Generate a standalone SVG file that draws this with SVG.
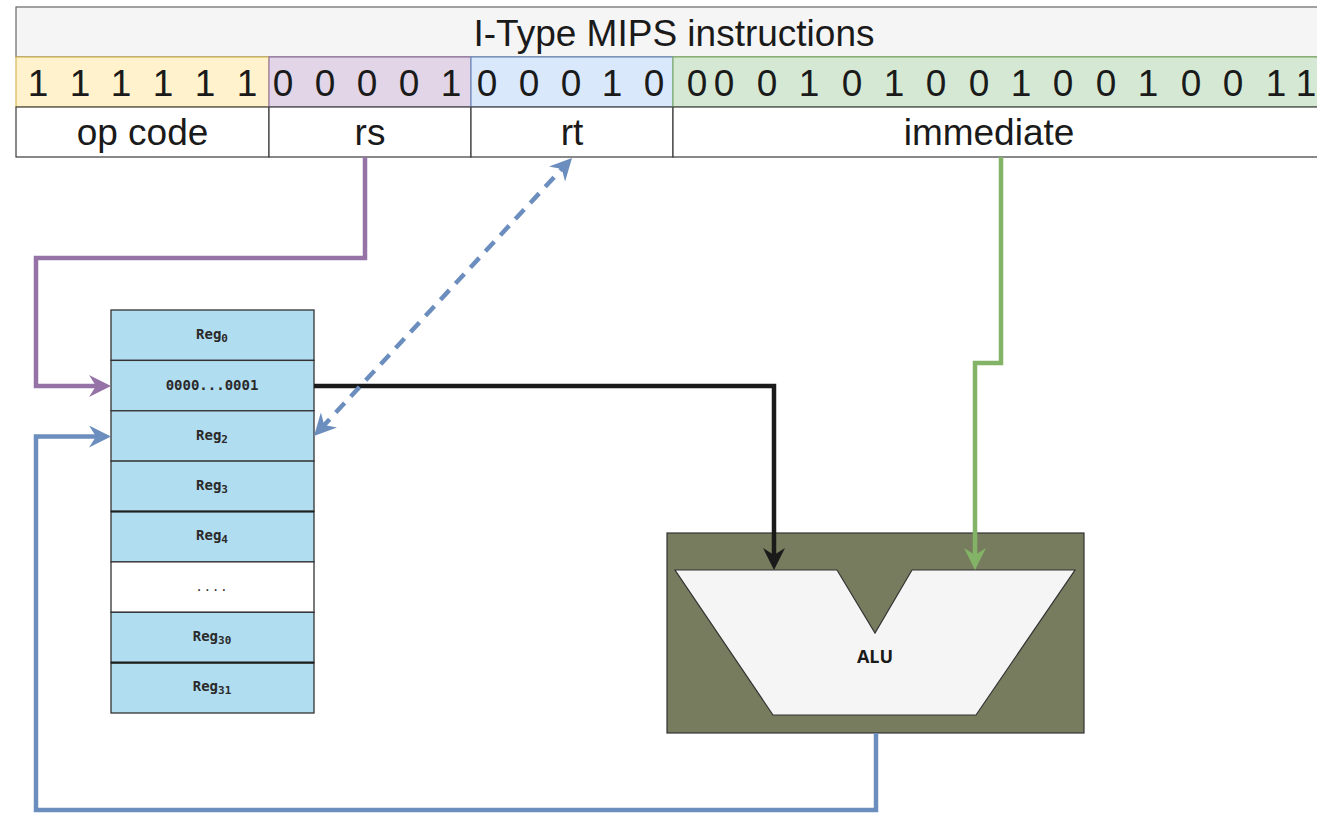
<svg xmlns="http://www.w3.org/2000/svg" width="1317" height="813" viewBox="0 0 1317 813">
  <style>
    .hdr { font-family: "Liberation Sans", Arial, sans-serif; font-size: 37px; fill: #1a1a1a; text-anchor: middle; }
    .cell { stroke-width: 1.2; }
    .lbl { fill: #ffffff; stroke: #3a3a3a; stroke-width: 1.2; }
    .reg { fill: #b1ddf0; stroke: #333333; stroke-width: 1.3; }
    .regtxt { font-family: "DejaVu Sans Mono", "Liberation Mono", monospace; font-size: 14px; font-weight: bold; fill: #2a2a2a; text-anchor: middle; }
    .sub { font-size: 11px; }
    .wire { fill: none; stroke-width: 4.5; stroke-linejoin: miter; }
  </style>
  <defs>
    <marker id="arrow-purple" viewBox="0 0 22 22" refX="12" refY="11" markerWidth="22" markerHeight="22" markerUnits="userSpaceOnUse" orient="auto">
      <path d="M0,0 L22,11 L0,22 L7,11 Z" fill="#9673a6"/>
    </marker>
    <marker id="arrow-black" viewBox="0 0 22 22" refX="12" refY="11" markerWidth="22" markerHeight="22" markerUnits="userSpaceOnUse" orient="auto">
      <path d="M0,0 L22,11 L0,22 L7,11 Z" fill="#1a1a1a"/>
    </marker>
    <marker id="arrow-green" viewBox="0 0 22 22" refX="12" refY="11" markerWidth="22" markerHeight="22" markerUnits="userSpaceOnUse" orient="auto">
      <path d="M0,0 L22,11 L0,22 L7,11 Z" fill="#82b366"/>
    </marker>
    <marker id="arrow-blue" viewBox="0 0 22 22" refX="12" refY="11" markerWidth="22" markerHeight="22" markerUnits="userSpaceOnUse" orient="auto-start-reverse">
      <path d="M0,0 L22,11 L0,22 L7,11 Z" fill="#6c8ebf"/>
    </marker>
  </defs>

  <rect width="1317" height="813" fill="#ffffff"/>

  <!-- instruction word -->
  <g id="title">
    <rect x="16" y="7" width="1316" height="50" fill="#f5f5f5" stroke="#666666" stroke-width="1.2"/>
    <text class="hdr" x="674" y="46">I-Type MIPS instructions</text>
  </g>

  <g id="field-opcode">
    <rect class="cell" x="16" y="57" width="253" height="50" fill="#fff2cc" stroke="#d6b656"/>
    <text class="hdr" x="38 80 121 163 205 247" y="96">111111</text>
    <rect class="lbl" x="16" y="107" width="253" height="50"/>
    <text class="hdr" x="142.5" y="145">op code</text>
  </g>

  <g id="field-rs">
    <rect class="cell" x="269" y="57" width="202" height="50" fill="#e1d5e7" stroke="#9673a6"/>
    <text class="hdr" x="283 325 367 409 451" y="96">00001</text>
    <rect class="lbl" x="269" y="107" width="202" height="50"/>
    <text class="hdr" x="370" y="145">rs</text>
  </g>

  <g id="field-rt">
    <rect class="cell" x="471" y="57" width="202" height="50" fill="#dae8fc" stroke="#6c8ebf"/>
    <text class="hdr" x="487 529 571 612 654" y="96">00010</text>
    <rect class="lbl" x="471" y="107" width="202" height="50"/>
    <text class="hdr" x="572" y="145">rt</text>
  </g>

  <g id="field-immediate">
    <rect class="cell" x="673" y="57" width="659" height="50" fill="#d5e8d4" stroke="#82b366"/>
    <text class="hdr" x="697 724 767 809 852 894 936 979 1021 1063 1106 1148 1191 1233 1276 1306" y="96">0001010010010011</text>
    <rect class="lbl" x="673" y="107" width="659" height="50"/>
    <text class="hdr" x="989" y="145">immediate</text>
  </g>

  <!-- register file -->
  <g id="register-file">
    <rect class="reg" x="111" y="310" width="203" height="50.4"/>
    <rect class="reg" x="111" y="360.4" width="203" height="50.4"/>
    <rect class="reg" x="111" y="410.8" width="203" height="50.4"/>
    <rect class="reg" x="111" y="461.1" width="203" height="50.4"/>
    <rect class="reg" x="111" y="511.5" width="203" height="50.4"/>
    <rect class="reg" x="111" y="561.9" width="203" height="50.4" style="fill:#ffffff"/>
    <rect class="reg" x="111" y="612.3" width="203" height="50.4"/>
    <rect class="reg" x="111" y="662.6" width="203" height="50.4"/>
    <line x1="111" y1="511.5" x2="314" y2="511.5" stroke="#1f1f1f" stroke-width="2.2"/>
    <line x1="111" y1="662.6" x2="314" y2="662.6" stroke="#1f1f1f" stroke-width="2.2"/>

    <text class="regtxt" x="212" y="339">Reg<tspan class="sub" dy="3">0</tspan></text>
    <text class="regtxt" x="212" y="390">0000...0001</text>
    <text class="regtxt" x="212" y="440">Reg<tspan class="sub" dy="3">2</tspan></text>
    <text class="regtxt" x="212" y="490">Reg<tspan class="sub" dy="3">3</tspan></text>
    <text class="regtxt" x="212" y="540">Reg<tspan class="sub" dy="3">4</tspan></text>
    <text class="regtxt" x="212" y="591" style="font-weight:normal;font-size:12px;letter-spacing:1px">....</text>
    <text class="regtxt" x="212" y="641">Reg<tspan class="sub" dy="3">30</tspan></text>
    <text class="regtxt" x="212" y="691">Reg<tspan class="sub" dy="3">31</tspan></text>
  </g>

  <!-- arithmetic logic unit -->
  <g id="alu">
    <rect x="667" y="533" width="417" height="200" fill="#777c5e" stroke="#333333" stroke-width="1.2"/>
    <polygon points="675,570 837,570 875,633 912,570 1075,570 976,715 773,715" fill="#f5f5f5" stroke="#333333" stroke-width="1.2"/>
    <text x="875" y="663" font-family="'Open Sans', 'DejaVu Sans', sans-serif" font-size="18" font-weight="bold" fill="#1a1a1a" text-anchor="middle">ALU</text>
  </g>

  <!-- connectors -->
  <g id="connectors">
    <path class="wire" d="M365,157 V258 H36 V386 H101" stroke="#9673a6" marker-end="url(#arrow-purple)"/>
    <path class="wire" d="M314,386 H774 V560" stroke="#1a1a1a" marker-end="url(#arrow-black)"/>
    <path class="wire" d="M1001,157 V363 H975 V560" stroke="#82b366" marker-end="url(#arrow-green)"/>
    <path class="wire" d="M876,733 V810 H36 V436.5 H101" stroke="#6c8ebf" marker-end="url(#arrow-blue)"/>
    <path class="wire" d="M320.8,428.7 L565.2,165.3" stroke="#6c8ebf" stroke-dasharray="13 9" marker-start="url(#arrow-blue)" marker-end="url(#arrow-blue)"/>
  </g>
</svg>
